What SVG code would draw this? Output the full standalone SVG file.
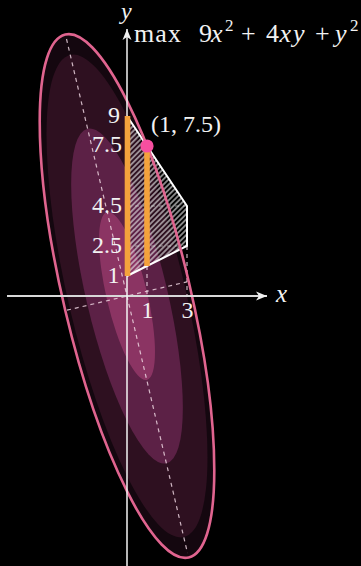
<svg xmlns="http://www.w3.org/2000/svg" width="361" height="566" viewBox="0 0 361 566">
  <style>
    .lvl { stroke: none; }
    .dash { stroke: #ecd3df; stroke-width: 1.2; stroke-dasharray: 4 4; fill: none; opacity: 0.85; }
    .dashf { stroke: #bbb; stroke-width: 1; stroke-dasharray: 4 4; fill: none; opacity: 0.7; }
    .bar { stroke: #f4a23c; stroke-width: 5.6; }
    .t { font-family: "Liberation Serif", "DejaVu Serif", serif; fill: #f2f2f2; }
    .tick { font-size: 24px; }
    .it { font-style: italic; }
  </style>
  <defs>
    <pattern id="hatch" patternUnits="userSpaceOnUse" width="3.7" height="3.7" patternTransform="rotate(45)">
      <line x1="1.85" y1="-1" x2="1.85" y2="5" stroke="#e6e6e6" stroke-width="1.1"/>
    </pattern>
    <marker id="arr" markerUnits="userSpaceOnUse" viewBox="0 0 11 10" refX="11" refY="5" markerWidth="11" markerHeight="10" orient="auto">
      <path d="M0,0.5 L11,5 L0,9.5 L3,5 Z" fill="#f0f0f0"/>
    </marker>
  </defs>
  <rect width="361" height="566" fill="#000"/>

  <g id="levels" transform="translate(127 296) rotate(-13.28)">
    <ellipse class="lvl" rx="63.42" ry="268.66" fill="#14070f"/>
    <ellipse class="lvl" rx="58.49" ry="247.75" fill="#2e1020"/>
    <ellipse class="lvl" rx="40.58" ry="171.9" fill="#5c2146"/>
    <ellipse class="lvl" rx="20.34" ry="86.18" fill="#8b3463"/>
  </g>

  <g id="guides">
    <line class="dash" x1="66.5" y1="39" x2="187.5" y2="553"/>
    <line class="dash" x1="67" y1="310.2" x2="187" y2="281.8"/>
    <line class="dash" x1="147" y1="266" x2="147" y2="296"/>
    <line class="dash" x1="187" y1="246" x2="187" y2="296"/>
    <line class="dashf" x1="127" y1="206" x2="187" y2="206"/>
    <line class="dashf" x1="127" y1="246" x2="187" y2="246"/>
  </g>

  <g id="region">
    <polygon points="127,116 187,206 187,246 127,276" fill="url(#hatch)"/>
    <polyline points="127,116 187,206 187,246 127,276" fill="none" stroke="#fff" stroke-width="2" stroke-linejoin="miter"/>
  </g>

  <g id="constraint-ellipse" transform="translate(127 296) rotate(-13.28)">
    <ellipse rx="63.42" ry="268.66" fill="none" stroke="#e0648f" stroke-width="2.6"/>
  </g>

  <g id="axes">
    <line x1="7" y1="296" x2="267" y2="296" stroke="#d8d8d8" stroke-width="2" marker-end="url(#arr)"/>
    <line x1="127" y1="566" x2="127" y2="29" stroke="#f4f4f4" stroke-width="1.5" marker-end="url(#arr)"/>
  </g>

  <g id="bars">
    <line class="bar" x1="127.5" y1="116" x2="127.5" y2="276"/>
    <line class="bar" x1="147" y1="146" x2="147" y2="266"/>
  </g>

  <g id="optimum">
    <circle cx="147" cy="146" r="6.6" fill="#f74fa0"/>
  </g>

  <g id="labels" class="t">
    <text class="t it" x="121" y="19" font-size="24">y</text>
    <text class="t it" x="276" y="302" font-size="25">x</text>
    <text class="t" x="134" y="42" font-size="26" textLength="47" lengthAdjust="spacing">max</text>
    <text class="t" y="42" font-size="26"><tspan x="199">9</tspan><tspan x="211" class="it">x</tspan><tspan x="225" y="31" font-size="17">2</tspan><tspan x="241" y="42">+</tspan><tspan x="266">4</tspan><tspan x="279.5" class="it">x</tspan><tspan x="293" class="it">y</tspan><tspan x="315">+</tspan><tspan x="335" class="it">y</tspan><tspan x="350" y="31" font-size="17">2</tspan></text>
    <text class="t" x="151" y="132" font-size="24">(1, 7.5)</text>
    <g class="tick" text-anchor="end">
      <text class="t" x="120" y="123">9</text>
      <text class="t" x="122" y="152">7.5</text>
      <text class="t" x="122" y="213">4.5</text>
      <text class="t" x="122" y="253">2.5</text>
      <text class="t" x="119.5" y="283">1</text>
    </g>
    <g class="tick" text-anchor="middle">
      <text class="t" x="147.5" y="318">1</text>
      <text class="t" x="187.5" y="318">3</text>
    </g>
  </g>
</svg>
